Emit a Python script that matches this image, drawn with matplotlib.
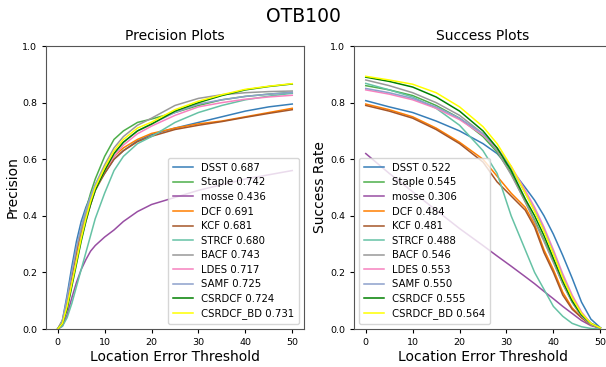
"""
OTB100 precision and success plots for the correlation-filter trackers.
"""
import matplotlib

matplotlib.use("Agg")
import matplotlib.pyplot as plt

TRACKERS = ["DSST", "Staple", "mosse", "DCF", "KCF", "STRCF", "BACF", "LDES",
            "SAMF", "CSRDCF", "CSRDCF_BD"]
PREC_SCORES = ["0.687", "0.742", "0.436", "0.691", "0.681", "0.680", "0.743", "0.717",
               "0.725", "0.724", "0.731"]
SUCC_SCORES = ["0.522", "0.545", "0.306", "0.484", "0.481", "0.488", "0.546", "0.553",
               "0.550", "0.555", "0.564"]
COLORS = ["#377eb8", "#4daf4a", "#984ea3", "#ff7f00", "#a65628", "#66c2a5", "#999999",
          "#f781bf", "#8da0cb", "#008000", "#ffff00"]

# precision curves, location error thresholds
PREC_X = [0, 1, 2, 3, 4, 5, 6, 7, 8, 10, 12, 14, 17, 20, 25, 30, 35, 40, 45, 50]
prec_dsst = [0, 0.03, 0.12, 0.22, 0.31, 0.38, 0.43, 0.47, 0.50, 0.55, 0.60, 0.63, 0.665, 0.687, 0.71, 0.73, 0.75, 0.77, 0.785, 0.795]
prec_staple = [0, 0.02, 0.09, 0.18, 0.27, 0.35, 0.42, 0.48, 0.53, 0.61, 0.67, 0.70, 0.73, 0.742, 0.765, 0.79, 0.81, 0.822, 0.83, 0.836]
prec_mosse = [0, 0.01, 0.05, 0.11, 0.165, 0.21, 0.245, 0.275, 0.295, 0.325, 0.35, 0.38, 0.415, 0.44, 0.465, 0.49, 0.51, 0.53, 0.545, 0.56]
prec_dcf = [0, 0.03, 0.10, 0.19, 0.27, 0.34, 0.40, 0.45, 0.50, 0.56, 0.61, 0.64, 0.67, 0.691, 0.71, 0.725, 0.735, 0.75, 0.765, 0.78]
prec_kcf = [0, 0.02, 0.09, 0.18, 0.26, 0.33, 0.39, 0.44, 0.49, 0.55, 0.60, 0.63, 0.662, 0.681, 0.705, 0.72, 0.733, 0.748, 0.762, 0.775]
prec_strcf = [0, 0.01, 0.04, 0.09, 0.15, 0.21, 0.27, 0.33, 0.39, 0.48, 0.56, 0.61, 0.655, 0.68, 0.73, 0.765, 0.79, 0.81, 0.823, 0.833]
prec_bacf = [0, 0.02, 0.08, 0.16, 0.25, 0.33, 0.40, 0.46, 0.51, 0.58, 0.64, 0.68, 0.72, 0.745, 0.79, 0.815, 0.828, 0.835, 0.839, 0.841]
prec_ldes = [0, 0.02, 0.08, 0.16, 0.24, 0.32, 0.38, 0.44, 0.49, 0.56, 0.61, 0.65, 0.69, 0.717, 0.755, 0.785, 0.80, 0.812, 0.82, 0.826]
prec_samf = [0, 0.03, 0.11, 0.20, 0.29, 0.36, 0.42, 0.47, 0.51, 0.57, 0.62, 0.66, 0.70, 0.725, 0.765, 0.795, 0.81, 0.822, 0.83, 0.836]
prec_csrdcf = [0, 0.02, 0.07, 0.15, 0.23, 0.31, 0.38, 0.44, 0.49, 0.56, 0.62, 0.66, 0.70, 0.724, 0.77, 0.80, 0.825, 0.845, 0.857, 0.866]
prec_csrdcf_bd = [0, 0.02, 0.08, 0.16, 0.24, 0.32, 0.39, 0.45, 0.50, 0.57, 0.63, 0.67, 0.71, 0.731, 0.775, 0.805, 0.828, 0.847, 0.858, 0.867]

# success curves
SUCC_X = [0, 5, 10, 15, 20, 25, 28, 31, 34, 36, 38, 40, 42, 44, 46, 48, 50]
succ_dsst = [0.807, 0.785, 0.765, 0.735, 0.70, 0.655, 0.62, 0.565, 0.50, 0.455, 0.40, 0.335, 0.26, 0.18, 0.095, 0.035, 0.005]
succ_staple = [0.86, 0.845, 0.825, 0.79, 0.745, 0.68, 0.625, 0.55, 0.45, 0.385, 0.315, 0.24, 0.16, 0.095, 0.045, 0.015, 0.003]
succ_mosse = [0.62, 0.55, 0.485, 0.42, 0.355, 0.295, 0.258, 0.222, 0.185, 0.16, 0.133, 0.107, 0.08, 0.055, 0.03, 0.012, 0.003]
succ_dcf = [0.795, 0.775, 0.75, 0.71, 0.66, 0.60, 0.54, 0.48, 0.43, 0.37, 0.28, 0.21, 0.13, 0.075, 0.04, 0.015, 0.003]
succ_kcf = [0.79, 0.77, 0.745, 0.705, 0.655, 0.59, 0.52, 0.47, 0.42, 0.36, 0.27, 0.20, 0.12, 0.07, 0.04, 0.015, 0.003]
succ_strcf = [0.868, 0.845, 0.82, 0.78, 0.72, 0.63, 0.55, 0.40, 0.28, 0.20, 0.14, 0.08, 0.045, 0.02, 0.008, 0.002, 0.0]
succ_bacf = [0.88, 0.86, 0.835, 0.80, 0.755, 0.69, 0.63, 0.545, 0.45, 0.38, 0.31, 0.235, 0.16, 0.095, 0.045, 0.015, 0.003]
succ_ldes = [0.845, 0.83, 0.81, 0.78, 0.74, 0.685, 0.64, 0.575, 0.49, 0.43, 0.36, 0.28, 0.195, 0.12, 0.06, 0.02, 0.004]
succ_samf = [0.85, 0.835, 0.815, 0.785, 0.745, 0.69, 0.64, 0.57, 0.48, 0.42, 0.35, 0.27, 0.185, 0.11, 0.055, 0.02, 0.004]
succ_csrdcf = [0.89, 0.875, 0.855, 0.82, 0.77, 0.70, 0.64, 0.56, 0.46, 0.40, 0.33, 0.25, 0.17, 0.10, 0.05, 0.02, 0.004]
succ_csrdcf_bd = [0.893, 0.88, 0.865, 0.835, 0.785, 0.715, 0.655, 0.575, 0.48, 0.415, 0.345, 0.265, 0.18, 0.11, 0.055, 0.02, 0.004]

PREC_Y = [prec_dsst, prec_staple, prec_mosse, prec_dcf, prec_kcf, prec_strcf, prec_bacf,
          prec_ldes, prec_samf, prec_csrdcf, prec_csrdcf_bd]
SUCC_Y = [succ_dsst, succ_staple, succ_mosse, succ_dcf, succ_kcf, succ_strcf, succ_bacf,
          succ_ldes, succ_samf, succ_csrdcf, succ_csrdcf_bd]


def draw_panel(ax, xs, curves, scores, title, ylabel, legend_loc):
    for name, ys, score, color in zip(TRACKERS, curves, scores, COLORS):
        ax.plot(xs, ys, color=color, linewidth=1.1, label=f"{name} {score}")
    ax.set_ylim(0, 1)
    ax.set_xticks([0, 10, 20, 30, 40, 50])
    ax.set_yticks([0.0, 0.2, 0.4, 0.6, 0.8, 1.0])
    ax.tick_params(labelsize=6.8, length=3, width=0.8)
    ax.set_title(title, fontsize=10, pad=4)
    ax.set_xlabel("Location Error Threshold", fontsize=10, labelpad=2)
    ax.set_ylabel(ylabel, fontsize=10, labelpad=2)
    for sp in ax.spines.values():
        sp.set_color("#555555")
    ax.legend(loc=legend_loc, fontsize=7.3, handlelength=2.0, labelspacing=0.45,
              borderpad=0.45)


def main():
    fig = plt.figure(figsize=(6.06, 3.67), dpi=100)
    ax1 = fig.add_axes([0.0759, 0.1035, 0.4257, 0.7711])
    ax2 = fig.add_axes([0.5842, 0.1035, 0.4257, 0.7711])

    draw_panel(ax1, PREC_X, PREC_Y, PREC_SCORES, "Precision Plots", "Precision", "lower right")
    draw_panel(ax2, SUCC_X, SUCC_Y, SUCC_SCORES, "Success Plots", "Success Rate", "lower left")

    fig.text(0.5, 1 - 17 / 367, "OTB100", ha="center", va="center", fontsize=13.5)
    fig.savefig("out.png", dpi=100)


if __name__ == "__main__":
    main()
